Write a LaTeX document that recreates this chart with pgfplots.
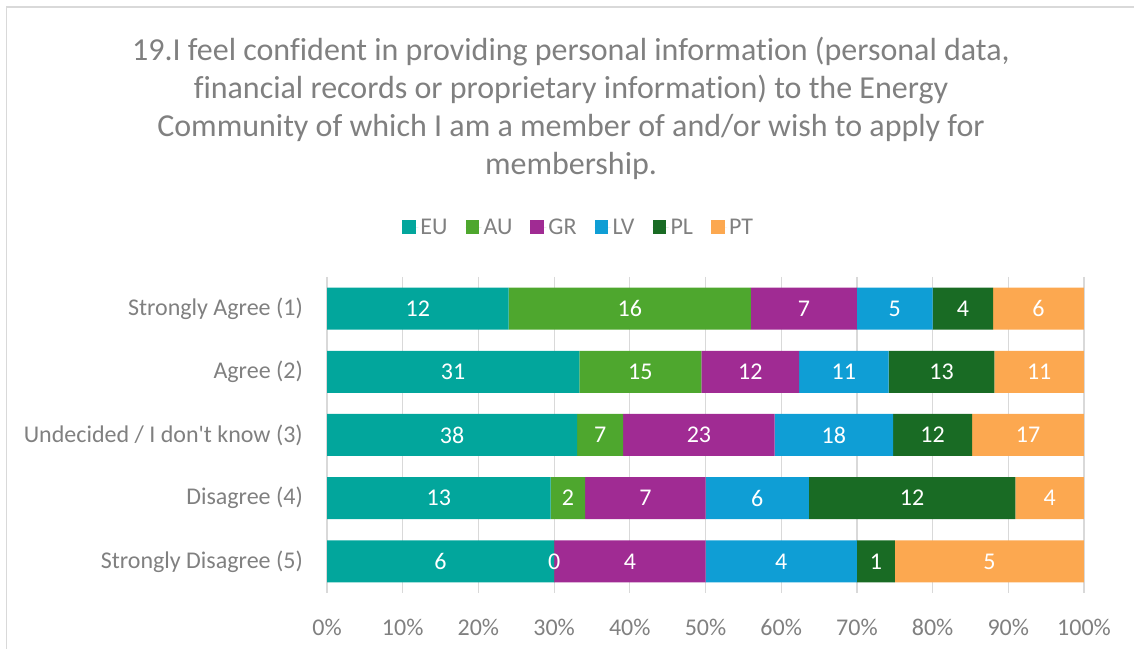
\documentclass[border=0pt]{standalone}
\usepackage{pgfplots}
\pgfplotsset{compat=1.18}
\usepackage{pgfplotstable}
\usepackage{fontspec}
\setmainfont{Carlito}[Ligatures={NoCommon,TeXOff}]
\definecolor{cEU}{HTML}{02A69C}
\definecolor{cAU}{HTML}{4EA72E}
\definecolor{cGR}{HTML}{A02B93}
\definecolor{cLV}{HTML}{0F9ED5}
\definecolor{cPL}{HTML}{196B24}
\definecolor{cPT}{HTML}{FCA850}
\definecolor{txt}{HTML}{808080}
\definecolor{gridc}{HTML}{D9D9D9}
% cat: 0 = Strongly Agree ... 4 = Strongly Disagree; pct = share of row (%), n = count
\pgfplotstableread{
cat pct n
0 24.0 12
1 33.33 31
2 33.04 38
3 29.55 13
4 30.0 6
}\EU
\pgfplotstableread{
cat pct n
0 32.0 16
1 16.13 15
2 6.09 7
3 4.55 2
4 0.01 0
}\AU
\pgfplotstableread{
cat pct n
0 14.0 7
1 12.90 12
2 20.0 23
3 15.91 7
4 20.0 4
}\GR
\pgfplotstableread{
cat pct n
0 10.0 5
1 11.83 11
2 15.65 18
3 13.64 6
4 20.0 4
}\LV
\pgfplotstableread{
cat pct n
0 8.0 4
1 13.98 13
2 10.43 12
3 27.27 12
4 5.0 1
}\PL
\pgfplotstableread{
cat pct n
0 11.99 6
1 11.82 11
2 14.78 17
3 9.07 4
4 24.98 5
}\PT
\begin{document}
\begin{tikzpicture}[x=1bp,y=1bp]
\useasboundingbox (0,0) rectangle (1134,649);
\draw[gridc, line width=1.2bp] (6.5,-10) -- (6.5,642) -- (1150,642);
\node[text=txt, font=\fontsize{32bp}{38bp}\selectfont, align=center] at (571,541)
 {19.I feel confident in providing personal information (personal data,\\
 financial records or proprietary information) to the Energy\\
 Community of which I am a member of and/or wish to apply for\\
 membership.};
\begin{axis}[
 at={(327bp,56bp)}, anchor=south west,
 scale only axis, width=757bp, height=316bp,
 xbar stacked, bar width=42bp,
 xmin=0, xmax=100, ymin=-0.5, ymax=4.5, y dir=reverse,
 /pgf/number format/assume math mode=true,
 xtick={0,10,...,100},
 xticklabels={0\%,10\%,20\%,30\%,40\%,50\%,60\%,70\%,80\%,90\%,100\%},
 ytick={0,1,2,3,4},
 yticklabels={Strongly Agree (1),Agree (2),Undecided / I don't know (3),Disagree (4),Strongly Disagree (5)},
 xmajorgrids, major grid style={gridc, line width=1.2bp},
 axis line style={draw=none},
 tick style={draw=none},
 xticklabel style={text=txt, font=\fontsize{24bp}{28bp}\selectfont, inner sep=0pt, anchor=north, yshift=-26bp},
 yticklabel style={text=txt, font=\fontsize{24bp}{28bp}\selectfont, inner sep=0pt, anchor=east, xshift=-24bp},
 point meta=explicit,
 nodes near coords={\pgfmathprintnumber{\pgfplotspointmeta}},
 every node near coord/.append style={anchor=center, text=white, font=\fontsize{24bp}{28bp}\selectfont},
 legend columns=6,
 legend style={at={(0.3325,1.158)}, anchor=center, draw=none, fill=none,
   font=\fontsize{24bp}{28bp}\selectfont, text=txt,
   /tikz/every even column/.append style={column sep=16bp}},
 legend image code/.code={\fill[#1] (0bp,-6.5bp) rectangle (13.5bp,7bp); \path (0bp,0bp) -- (16bp,0bp);},
]
\addplot[fill=cEU, draw=none] table[x=pct, y=cat, meta=n] {\EU};
\addplot[fill=cAU, draw=none] table[x=pct, y=cat, meta=n] {\AU};
\addplot[fill=cGR, draw=none] table[x=pct, y=cat, meta=n] {\GR};
\addplot[fill=cLV, draw=none] table[x=pct, y=cat, meta=n] {\LV};
\addplot[fill=cPL, draw=none] table[x=pct, y=cat, meta=n] {\PL};
\addplot[fill=cPT, draw=none] table[x=pct, y=cat, meta=n] {\PT};
\legend{EU,AU,GR,LV,PL,PT}
\end{axis}
\end{tikzpicture}
\end{document}
